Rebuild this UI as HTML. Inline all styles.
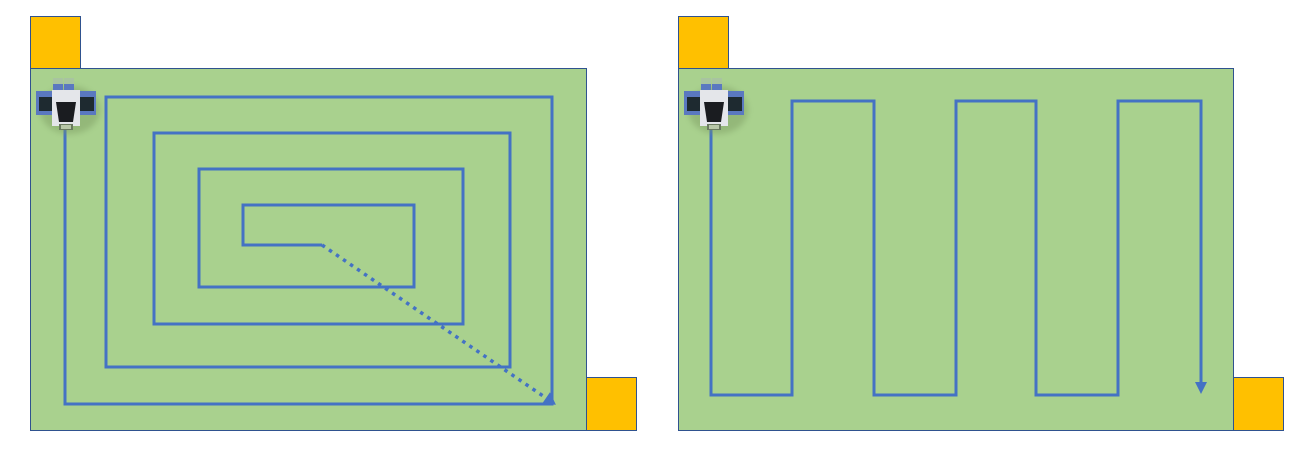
<!DOCTYPE html>
<html><head><meta charset="utf-8"><style>
html,body{margin:0;padding:0;background:#fff;}
svg{display:block;}
</style></head><body>
<svg id="s" width="1310" height="456" viewBox="0 0 1310 456" xmlns="http://www.w3.org/2000/svg">
<defs>
<marker id="ah" markerWidth="8" markerHeight="8" refX="6" refY="4" orient="auto" markerUnits="userSpaceOnUse" viewBox="0 0 8 8">
</marker>
<filter id="blur" x="-50%" y="-50%" width="200%" height="200%"><feGaussianBlur stdDeviation="3"/></filter>
</defs>
<g>
<rect x="30.5" y="68.5" width="556" height="362" fill="#a9d18e" stroke="#2f528f" stroke-width="1"/>
<rect x="30.5" y="16.5" width="50" height="52" fill="#ffc000" stroke="#2f528f" stroke-width="1"/>
<rect x="586.5" y="377.5" width="50" height="53" fill="#ffc000" stroke="#2f528f" stroke-width="1"/>
<g id="leftPaths"></g>
</g>
<g>
<rect x="678.5" y="68.5" width="555" height="362" fill="#a9d18e" stroke="#2f528f" stroke-width="1"/>
<rect x="678.5" y="16.5" width="50" height="52" fill="#ffc000" stroke="#2f528f" stroke-width="1"/>
<rect x="1233.5" y="377.5" width="50" height="53" fill="#ffc000" stroke="#2f528f" stroke-width="1"/>
<g id="rightPaths"></g>
</g>
<g id="robots"></g>
</svg>
<script>
const spiralX = [65,65,552,552,106,106,510,510,154,154,463,463,199,199,414,414,243,243,322];
const spiralY = [125,404,404,97,97,367,367,133,133,324,324,169,169,287,287,205,205,245,245];
const dottedX = [322,546];
const dottedY = [245,398];
const zigX = [711,711,792,792,874,874,956,956,1036,1036,1118,1118,1201,1201];
const zigY = [125,395,395,101,101,395,395,101,101,395,395,101,101,382];
const robotX = [66,714];
const robotY = [104,104];

const NS='http://www.w3.org/2000/svg';
const C='#4472c4';
function mk(t,a,p){const e=document.createElementNS(NS,t);for(const k in a)e.setAttribute(k,a[k]);p.appendChild(e);return e;}
function pts(xs,ys){return xs.map((x,i)=>x+','+ys[i]).join(' ');}
const L=document.getElementById('leftPaths'),R=document.getElementById('rightPaths');
const sp=mk('polyline',{points:pts(spiralX,spiralY),fill:'none',stroke:C,'stroke-width':3,'stroke-linejoin':'miter'},L);


const dl=mk('line',{x1:dottedX[0],y1:dottedY[0],x2:dottedX[1],y2:dottedY[1],stroke:C,'stroke-width':3.5,'stroke-dasharray':'3.5 5'},L);


// arrowheads
function arrow(x0,y0,x1,y1,len,w,p,name){
 const dx=x1-x0,dy=y1-y0,d=Math.hypot(dx,dy),ux=dx/d,uy=dy/d;
 const tx=x1+ux*len,ty=y1+uy*len;
 const a=mk('polygon',{points:`${tx},${ty} ${x1-uy*w},${y1+ux*w} ${x1+uy*w},${y1-ux*w}`,fill:C},p);
 
 
}
arrow(dottedX[0],dottedY[0],dottedX[1],dottedY[1],12,7,L,'spiral-arrowhead');
const zz=mk('polyline',{points:pts(zigX,zigY),fill:'none',stroke:C,'stroke-width':3,'stroke-linejoin':'miter'},R);


const n=zigX.length;
arrow(zigX[n-2],zigY[n-2],zigX[n-1],zigY[n-1],12,6,R,'zigzag-arrowhead');
// robots
const G=document.getElementById('robots');
robotX.forEach((cx,i)=>{
 const g=mk('g',{transform:`translate(${cx},${robotY[i]})`},G);
 
 
 mk('ellipse',{cx:4,cy:6,rx:30,ry:24,fill:'#7a9a60',opacity:0.45,filter:'url(#blur)'},g);
 mk('rect',{x:-13,y:-26,width:10,height:10,fill:'#a8c4a0'},g);
 mk('rect',{x:-2,y:-26,width:10,height:10,fill:'#a8c4a0'},g);
 mk('rect',{x:-13,y:-20,width:10,height:6,fill:'#5a78c0'},g);
 mk('rect',{x:-2,y:-20,width:10,height:6,fill:'#5a78c0'},g);
 mk('rect',{x:-30,y:-13,width:18,height:24,fill:'#5a78c0'},g);
 mk('rect',{x:12,y:-13,width:18,height:24,fill:'#5a78c0'},g);
 mk('rect',{x:-27,y:-7,width:14,height:14,fill:'#1e2a30'},g);
 mk('rect',{x:14,y:-7,width:14,height:14,fill:'#1e2a30'},g);
 mk('rect',{x:-14,y:-14,width:28,height:36,fill:'#e4e6ea'},g);
 mk('polygon',{points:'-10,-2 10,-2 7,18 -7,18',fill:'#1a1c20'},g);
 mk('rect',{x:-7,y:20,width:14,height:6,fill:'#6a7a60'},g);
 mk('rect',{x:-5,y:21,width:10,height:4,fill:'#b8c8a8'},g);
});
</script>
</body></html>
